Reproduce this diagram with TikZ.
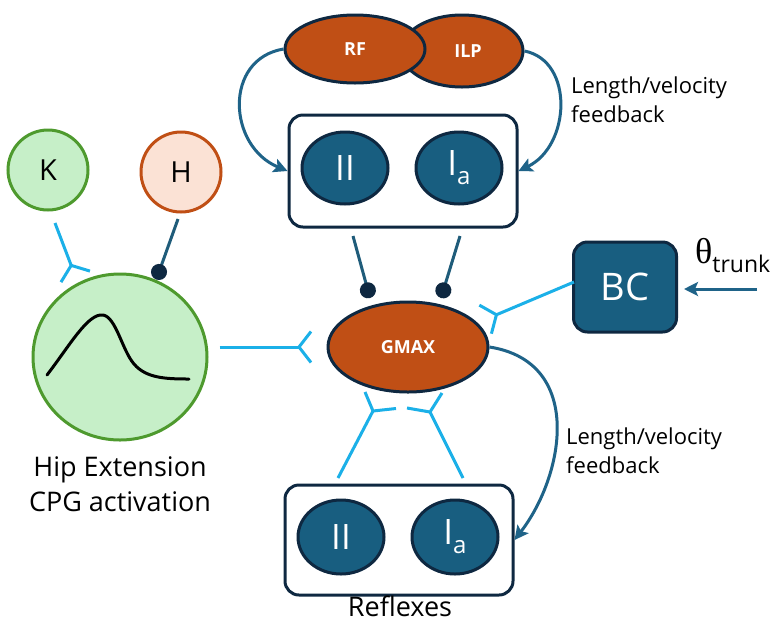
\documentclass[tikz,border=0pt]{standalone}
\usepackage{fontspec}
\setmainfont{Open Sans}
\newfontfamily\thetafont{Liberation Serif}
\usetikzlibrary{shapes.geometric,arrows.meta}
\definecolor{navy}{HTML}{0E2841}
\definecolor{tealfill}{HTML}{185E80}
\definecolor{arrowteal}{HTML}{1F6388}
\definecolor{orangefill}{HTML}{C04F15}
\definecolor{cyanline}{HTML}{1BB0E8}
\definecolor{kgreen}{HTML}{4E9A2E}
\definecolor{kfill}{HTML}{C6EFC8}
\definecolor{hfill}{HTML}{FBE2D5}
\definecolor{hline}{HTML}{1F5C7A}
\tikzset{
  muscle/.style={ellipse, draw=navy, line width=3pt, fill=orangefill, text=white, inner sep=0pt,
    font=\fontsize{18}{18}\selectfont\bfseries},
  afferent/.style={ellipse, draw=navy, line width=3pt, fill=tealfill, text=white, inner sep=0pt,
    minimum width=86pt, minimum height=72pt, font=\fontsize{35}{35}\selectfont},
  groupbox/.style={rectangle, rounded corners=14pt, draw=navy, line width=3pt, fill=white,
    minimum width=228pt, minimum height=110pt},
  fbarrow/.style={draw=arrowteal, line width=3pt, -{Stealth[length=14pt,width=14pt,inset=3pt]}},
  syn/.style={draw=cyanline, line width=3pt, -{Straight Barb[reversed,length=12pt,width=31pt]}},
  synline/.style={draw=cyanline, line width=3pt},
  inhib/.style={draw=hline, line width=3pt, -{Circle[length=16pt,color=navy]}},
  lbl/.style={align=left, anchor=north west, inner sep=0pt, font=\fontsize{22}{29}\selectfont},
  biglbl/.style={align=center, inner sep=0pt, font=\fontsize{27}{35}\selectfont},
}
\begin{document}
\begin{tikzpicture}[x=1pt,y=-1pt]
\useasboundingbox[fill=white] (0,0) rectangle (775,622);

% top muscles
\node[muscle, minimum width=122pt, minimum height=72pt] (ilp) at (462,51) {\hspace*{12pt}ILP};
\node[muscle, minimum width=140pt, minimum height=68pt] (rf) at (355,49) {RF};

% top afferent box
\node[groupbox, minimum height=112pt] (topbox) at (403,171) {};
\node[afferent] (topII) at (345,168) {II};
\node[afferent] (topIa) at (459,168) {I\raisebox{-9pt}{\fontsize{24}{24}\selectfont a}};

\draw[fbarrow] (rf.west) .. controls +(-60,10) and +(-60,-25) .. (topbox.west);
\draw[fbarrow] (ilp.east) .. controls +(50,10) and +(52,-25) .. (topbox.east);
\node[lbl] (fb1) at (571,77) {Length/velocity\\feedback};

% K and H
\node[circle, draw=kgreen, line width=3pt, fill=kfill, minimum size=80pt, inner sep=0pt,
  font=\fontsize{29}{29}\selectfont] (k) at (48,170) {K};
\node[circle, draw=orangefill, line width=3pt, fill=hfill, minimum size=80pt, inner sep=0pt,
  font=\fontsize{29}{29}\selectfont] (h) at (181,172) {H};

% CPG
\node[ellipse, draw=kgreen, line width=3pt, fill=kfill, minimum width=174pt, minimum height=166pt,
  inner sep=0pt] (cpg) at (120,357) {};
\draw[black, line width=3pt, line cap=round] (47,375) .. controls (70,345) and (88,313) .. (103,315)
  .. controls (116,317) and (122,350) .. (134,364) .. controls (146,378) and (165,379) .. (189,379);
\node[biglbl] (cpglbl) at (120,484) {Hip Extension\\CPG activation};

% GMAX
\node[muscle, minimum width=160pt, minimum height=90pt] (gmax) at (408,347) {GMAX};

% BC
\node[rectangle, rounded corners=14pt, draw=navy, line width=3pt, fill=tealfill, text=white,
  minimum width=103pt, minimum height=90pt, font=\fontsize{38}{38}\selectfont] (bc) at (625,287) {BC};
\node[anchor=west, inner sep=0pt] (theta) at (695,256)
  {{\thetafont\fontsize{36}{36}\selectfont θ}\raisebox{-9pt}{\fontsize{23}{23}\selectfont trunk}};
\coordinate (thetain) at (757,289);
\draw[draw=arrowteal, line width=3pt, -{Stealth[length=14pt,width=14pt,inset=3pt]}, shorten >=6pt]
  (thetain) -- (bc.east |- thetain);

% bottom box
\node[groupbox] (botbox) at (399,540) {};
\node[afferent, minimum height=74pt] (botII) at (341,537) {II};
\node[afferent, minimum height=74pt] (botIa) at (455,537) {I\raisebox{-9pt}{\fontsize{24}{24}\selectfont a}};
\node[biglbl] (reflbl) at (400,606) {Reflexes};

\draw[fbarrow] (gmax.east) .. controls +(95,15) and +(50,-65) .. (botbox.east);
\node[lbl] (fb2) at (566,428) {Length/velocity\\feedback};

% synapse connectors
\coordinate (k-s) at (55,223);
\coordinate (k-e) at (76,278);
\draw[syn] (k-s) -- (k-e);

\coordinate (h-s) at (178,219);
\coordinate (h-e) at (156.3,279.5);
\draw[inhib] (h-s) -- (h-e);

\draw[syn, shorten <=11pt, shorten >=14pt] (cpg.east |- gmax.west) -- (gmax.west);

\coordinate (t1-s) at (353,236);
\coordinate (t1-e) at (370,298);
\draw[inhib] (t1-s) -- (t1-e);
\coordinate (t2-s) at (460,236);
\coordinate (t2-e) at (441,298);
\draw[inhib] (t2-s) -- (t2-e);

\coordinate (bc-s) at (574,282);
\coordinate (bc-e) at (484,320);
\draw[syn] (bc-s) -- (bc-e);

% bottom synapses (asymmetric forks)
\coordinate (b1-s) at (338,478);
\coordinate (b1-v) at (373,411);
\draw[synline] (b1-s) -- (b1-v);
\draw[synline, line join=miter] (365,392) -- (b1-v) -- (396,408.5);
\coordinate (b2-s) at (463,478);
\coordinate (b2-v) at (430,412);
\draw[synline] (b2-s) -- (b2-v);
\draw[synline, line join=miter] (442,393) -- (b2-v) -- (407,408);
\end{tikzpicture}
\end{document}
